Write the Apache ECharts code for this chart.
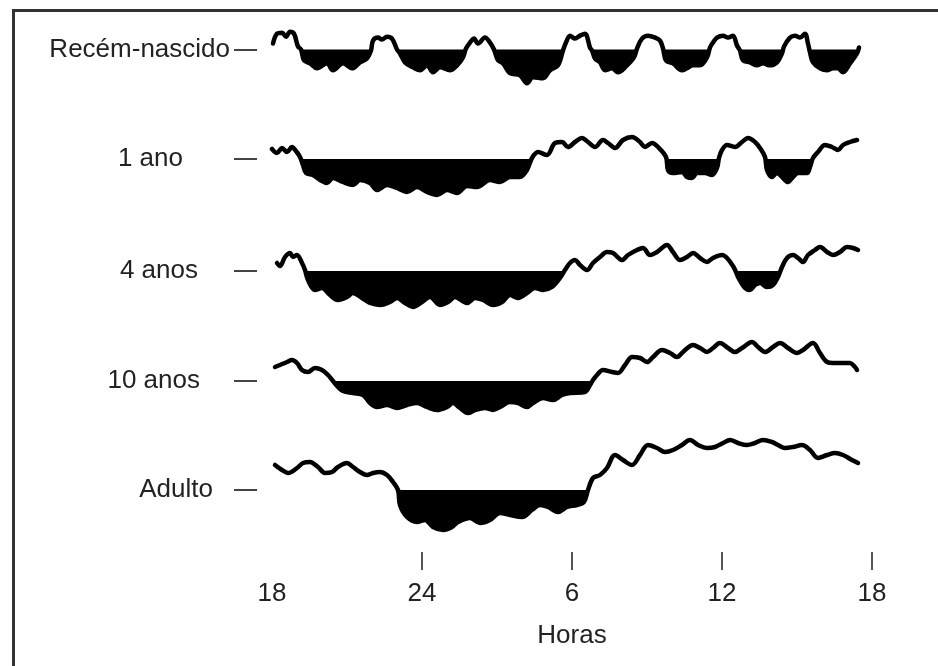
<!DOCTYPE html>
<html>
<head>
<meta charset="utf-8">
<script src="https://cdn.jsdelivr.net/npm/echarts@6/dist/echarts.min.js"></script>
<style>
html,body{margin:0;padding:0;background:#fff;}
#chart{width:938px;height:666px;}
</style>
</head>
<body>
<div id="chart"></div>
<script>
// ---- data (hours since 18h, relative sleep/wake level; negative = sleep) ----
const rowLabels = ['Recém-nascido', '1 ano', '4 anos', '10 anos', 'Adulto'];
const hourTicks = [0, 6, 12, 18, 24];
const hourTickLabels = ['18', '24', '6', '12', '18'];
const axisTitle = 'Horas';

const recemNascido = [[0.04,6],[0.2,16],[0.4,17],[0.56,13],[0.72,18],[0.88,16],[1.04,3],[1.16,0],[1.28,-11],[1.52,-14],[1.8,-19],[2.2,-14],[2.44,-21],[2.84,-14],[3.2,-19],[3.52,-13],[3.8,-9],[3.96,-1],[4.04,9],[4.24,12],[4.4,10],[4.6,13],[4.8,11],[5.0,0],[5.12,-4],[5.32,-13],[5.64,-18],[5.92,-21],[6.2,-16],[6.44,-23],[6.72,-18],[7.12,-21],[7.4,-16],[7.64,-8],[7.76,1],[7.92,7],[8.08,11],[8.24,6],[8.52,12],[8.72,7],[8.88,0],[9.04,-11],[9.24,-14],[9.52,-24],[9.92,-26],[10.2,-34],[10.44,-28],[10.84,-29],[11.12,-21],[11.44,-16],[11.64,-1],[11.76,7],[11.92,14],[12.12,11],[12.32,14],[12.52,16],[12.72,2],[12.8,-1],[12.92,-9],[13.12,-13],[13.32,-21],[13.6,-19],[13.84,-23],[14.2,-16],[14.48,-8],[14.6,1],[14.8,11],[15.04,14],[15.32,12],[15.52,9],[15.64,1],[15.76,-11],[16.04,-14],[16.4,-21],[16.6,-19],[16.84,-16],[17.12,-16],[17.4,-8],[17.52,2],[17.64,7],[17.8,12],[18.04,14],[18.24,12],[18.44,14],[18.6,4],[18.72,-1],[18.84,-11],[19.12,-13],[19.4,-16],[19.64,-14],[19.92,-16],[20.2,-13],[20.4,-4],[20.48,3],[20.72,12],[20.92,14],[21.12,12],[21.32,16],[21.44,6],[21.52,-3],[21.64,-13],[21.92,-19],[22.2,-21],[22.44,-19],[22.64,-19],[22.84,-23],[23.12,-14],[23.4,-4],[23.48,2]];

const umAno = [[0,10],[0.2,6],[0.4,11],[0.6,7],[0.8,12],[0.96,8],[1.12,2],[1.24,-6],[1.36,-14],[1.64,-16],[1.92,-21],[2.2,-24],[2.44,-19],[2.84,-23],[3.24,-26],[3.52,-21],[3.92,-24],[4.2,-31],[4.6,-26],[5.0,-29],[5.4,-33],[5.8,-28],[6.2,-33],[6.6,-36],[7.0,-31],[7.4,-34],[7.8,-27],[8.2,-28],[8.72,-21],[9.12,-23],[9.52,-18],[9.92,-18],[10.2,-11],[10.4,1],[10.64,7],[11.0,4],[11.32,16],[11.6,17],[11.84,12],[12.12,17],[12.4,21],[12.64,17],[12.92,12],[13.24,19],[13.44,16],[13.72,11],[14.04,19],[14.4,22],[14.72,17],[14.92,12],[15.2,16],[15.44,12],[15.76,2],[15.84,-11],[16.04,-14],[16.4,-13],[16.6,-18],[16.8,-19],[17.0,-14],[17.32,-14],[17.6,-16],[17.8,-9],[17.88,1],[18.0,9],[18.2,14],[18.52,12],[18.8,17],[19.04,21],[19.32,17],[19.52,11],[19.72,2],[19.8,-11],[20.0,-18],[20.2,-14],[20.4,-18],[20.64,-23],[20.84,-18],[21.04,-14],[21.4,-14],[21.52,-8],[21.64,1],[21.84,7],[22.12,14],[22.4,12],[22.64,9],[22.84,14],[23.12,17],[23.4,19]];

const quatroAnos = [[0.2,8],[0.32,5],[0.52,14],[0.72,18],[0.84,14],[1.0,16],[1.2,8],[1.32,1],[1.44,-9],[1.72,-19],[2.0,-17],[2.32,-24],[2.64,-29],[3.0,-26],[3.24,-22],[3.6,-27],[3.92,-32],[4.32,-34],[4.72,-31],[5.0,-27],[5.32,-32],[5.64,-36],[6.0,-31],[6.32,-26],[6.72,-34],[7.04,-31],[7.32,-26],[7.8,-32],[8.12,-27],[8.44,-29],[8.84,-34],[9.2,-31],[9.52,-24],[9.84,-27],[10.2,-22],[10.52,-17],[10.84,-19],[11.2,-16],[11.52,-7],[11.72,1],[11.92,8],[12.12,11],[12.32,6],[12.6,1],[12.84,8],[13.12,14],[13.4,19],[13.64,18],[14.0,11],[14.24,16],[14.6,21],[14.84,23],[15.12,16],[15.4,19],[15.8,26],[16.04,19],[16.32,11],[16.6,14],[16.84,18],[17.12,13],[17.4,9],[17.64,13],[18.0,16],[18.2,13],[18.44,5],[18.56,-1],[18.64,-6],[18.92,-17],[19.12,-19],[19.32,-14],[19.52,-12],[19.8,-16],[20.04,-14],[20.24,-6],[20.4,4],[20.6,13],[20.84,16],[21.04,13],[21.24,9],[21.44,16],[21.72,21],[21.92,24],[22.2,19],[22.44,16],[22.72,19],[23.0,24],[23.24,23],[23.44,21]];

const dezAnos = [[0.12,14],[0.32,16],[0.6,19],[0.8,21],[1.0,18],[1.2,11],[1.44,9],[1.72,13],[2.0,11],[2.24,6],[2.44,0],[2.64,-6],[2.84,-10],[3.24,-12],[3.64,-14],[3.92,-22],[4.2,-26],[4.6,-24],[5.0,-27],[5.4,-24],[5.8,-22],[6.2,-26],[6.6,-29],[7.0,-26],[7.24,-22],[7.52,-27],[7.84,-32],[8.12,-29],[8.52,-27],[8.84,-29],[9.12,-26],[9.52,-21],[9.84,-22],[10.2,-26],[10.44,-22],[10.84,-17],[11.24,-19],[11.6,-14],[11.92,-12],[12.52,-11],[12.72,-4],[12.84,1],[13.0,6],[13.24,11],[13.6,9],[13.84,8],[14.12,16],[14.4,24],[14.72,23],[15.0,19],[15.24,24],[15.6,31],[15.92,28],[16.2,24],[16.44,29],[16.84,36],[17.12,33],[17.4,29],[17.64,33],[17.92,38],[18.24,33],[18.52,29],[18.8,33],[19.2,39],[19.44,34],[19.72,29],[20.04,34],[20.32,38],[20.64,33],[21.0,28],[21.24,31],[21.64,38],[21.92,28],[22.2,19],[22.44,18],[22.84,18],[23.12,18],[23.32,14],[23.4,11]];

const adulto = [[0.12,25],[0.4,20],[0.64,17],[1.0,22],[1.24,27],[1.52,28],[1.84,23],[2.12,17],[2.4,18],[2.64,23],[3.0,27],[3.24,23],[3.52,18],[3.8,15],[4.04,17],[4.32,18],[4.6,15],[4.84,8],[5.04,0],[5.12,-15],[5.4,-27],[5.8,-32],[6.12,-30],[6.44,-37],[6.84,-40],[7.2,-37],[7.44,-32],[7.92,-28],[8.32,-33],[8.72,-30],[9.12,-23],[9.52,-25],[10.0,-27],[10.4,-20],[10.72,-15],[11.04,-17],[11.44,-22],[11.8,-17],[12.2,-15],[12.48,-12],[12.64,0],[12.84,12],[13.12,15],[13.4,22],[13.72,35],[14.04,30],[14.4,25],[14.72,35],[15.04,45],[15.4,42],[15.72,38],[16.04,40],[16.4,45],[16.72,50],[17.04,45],[17.4,42],[17.72,43],[18.04,47],[18.32,50],[18.64,47],[19.0,45],[19.32,47],[19.64,50],[20.0,48],[20.24,45],[20.52,42],[20.84,43],[21.2,45],[21.52,40],[21.84,32],[22.2,35],[22.52,37],[22.84,35],[23.2,30],[23.44,27]];

const rows = [recemNascido, umAno, quatroAnos, dezAnos, adulto];

// ---- layout / style ----
const FONT = 'Liberation Sans, Arial, sans-serif';
const FS = 26;
const rowBaseline = [49, 159, 271, 381, 490];
const labelMargin = [27, 74, 59, 57, 44];
const HALF = 50;
const SMOOTH = 0.35;

const grids = [], xAxes = [], yAxes = [], series = [];
rows.forEach((data, i) => {
  grids.push({ left: 272, right: 66, top: rowBaseline[i] - HALF, height: HALF * 2 });
  const isLast = i === rows.length - 1;
  xAxes.push(isLast ? {
    gridIndex: i, type: 'value', min: 0, max: 24, position: 'bottom', offset: 12,
    axisLine: { show: false, onZero: false }, splitLine: { show: false },
    axisTick: { show: true, customValues: hourTicks.slice(1), length: 18, lineStyle: { color: '#555', width: 2 } },
    axisLabel: { customValues: hourTicks, margin: 29, fontSize: FS, fontFamily: FONT, color: '#222',
      formatter: v => hourTickLabels[hourTicks.indexOf(v)] },
    name: axisTitle, nameLocation: 'middle', nameGap: 71,
    nameTextStyle: { fontSize: FS, fontFamily: FONT, color: '#222' }
  } : { gridIndex: i, type: 'value', min: 0, max: 24, show: false });
  yAxes.push({
    gridIndex: i, type: 'value', min: -HALF, max: HALF, offset: 15,
    axisLine: { show: false, onZero: false }, splitLine: { show: false },
    axisTick: { show: true, customValues: [0], length: 23, lineStyle: { color: '#444', width: 2 } },
    axisLabel: { customValues: [0], margin: labelMargin[i], fontSize: FS, fontFamily: FONT, color: '#222',
      formatter: () => rowLabels[i] }
  });
  series.push({
    type: 'line', xAxisIndex: i, yAxisIndex: i, smooth: SMOOTH, showSymbol: false, clip: false,
    data: data.map(p => [p[0], Math.min(p[1], 0)]),
    lineStyle: { width: 0 }, areaStyle: { color: '#000', opacity: 1, origin: 0 }, z: 2
  });
  series.push({
    type: 'line', xAxisIndex: i, yAxisIndex: i, smooth: SMOOTH, showSymbol: false, clip: false,
    data: data,
    lineStyle: { color: '#000', width: 4.5, cap: 'round', join: 'round' }, z: 3
  });
});

const chart = echarts.init(document.getElementById('chart'), null, { renderer: 'canvas' });
chart.setOption({
  animation: false,
  backgroundColor: '#fff',
  grid: grids, xAxis: xAxes, yAxis: yAxes, series: series,
  graphic: [{
    type: 'rect', left: 11, top: 8, z: -1, silent: true,
    shape: { width: 940, height: 680 },
    style: { fill: 'none', stroke: '#333', lineWidth: 3 }
  }]
});
</script>
</body>
</html>
